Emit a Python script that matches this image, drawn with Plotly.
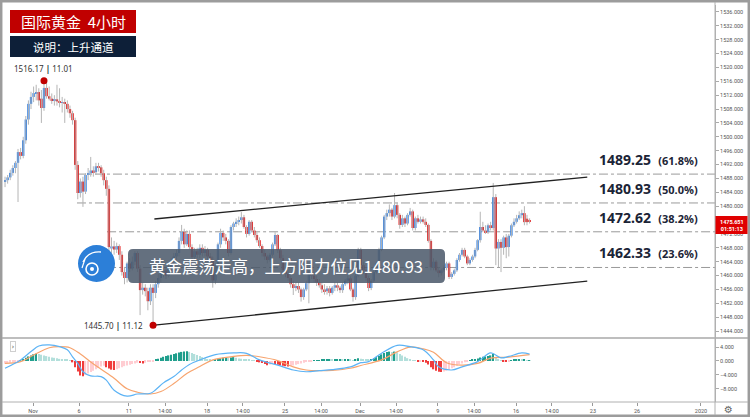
import plotly.graph_objects as go

# 4-hour gold bars, bar index on x (Oct 30 .. Dec 17 2019)
opens = [
    1487.0, 1487.5, 1488.3, 1489.6, 1491.0, 1492.5, 1495.6, 1494.5, 1499.0, 1505.0,
    1509.5, 1511.5, 1512.6, 1512.9, 1511.0, 1508.3, 1514.1, 1511.7, 1511.0, 1510.5,
    1510.8, 1510.2, 1509.8, 1510.0, 1509.5, 1508.0, 1506.8, 1504.8, 1491.9, 1483.8,
    1487.1, 1484.2, 1489.0, 1489.5, 1490.3, 1489.8, 1491.5, 1491.2, 1489.5, 1487.5,
    1485.0, 1467.8, 1468.4, 1467.5, 1468.5, 1466.0, 1461.0, 1459.3, 1463.5, 1462.0,
    1464.0, 1466.5, 1462.0, 1455.8, 1456.5, 1455.5, 1452.6, 1456.5, 1455.0, 1457.5,
    1459.3, 1460.7, 1461.5, 1460.0, 1462.4, 1464.0, 1465.5, 1466.5, 1470.0, 1472.6,
    1469.0, 1472.0, 1468.2, 1465.3, 1467.0, 1466.0, 1468.0, 1466.5, 1467.4, 1465.5,
    1464.5, 1458.6, 1463.0, 1469.0, 1472.3, 1471.0, 1470.0, 1466.5, 1474.0, 1475.0,
    1475.5, 1476.0, 1476.8, 1474.0, 1472.0, 1475.5, 1473.0, 1471.7, 1470.2, 1468.5,
    1466.5, 1465.5, 1464.5, 1466.0, 1469.0, 1471.7, 1467.3, 1465.0, 1461.6, 1460.5,
    1459.3, 1457.5, 1456.4, 1457.0, 1456.0, 1453.8, 1456.0, 1457.8, 1460.7, 1460.0,
    1459.0, 1458.0, 1457.2, 1456.0, 1455.5, 1456.3, 1455.0, 1456.5, 1457.2, 1456.5,
    1455.8, 1457.5, 1458.5, 1459.2, 1456.0, 1453.8, 1460.0, 1467.4, 1463.0, 1461.5,
    1459.3, 1456.4, 1458.5, 1461.0, 1463.5, 1467.4, 1471.0, 1477.0, 1478.0, 1479.0,
    1477.0, 1480.3, 1477.5, 1474.6, 1476.5, 1475.0, 1477.5, 1478.5, 1473.7, 1476.5,
    1475.5, 1476.2, 1475.5, 1474.6, 1470.0, 1462.4, 1464.0, 1461.5, 1460.7, 1461.5,
    1462.2, 1463.5, 1459.6, 1460.5, 1461.5, 1464.5, 1466.0, 1467.4, 1465.5, 1463.5,
    1464.5, 1465.5, 1467.4, 1470.2, 1474.0, 1473.0, 1472.5, 1474.5, 1473.7, 1482.6,
    1467.8, 1469.7, 1468.0, 1471.0, 1468.2, 1471.5, 1474.5, 1475.5, 1476.5, 1477.4,
    1478.0, 1476.4, 1476.0,
]
highs = [
    1488.5, 1489.0, 1490.5, 1491.8, 1493.0, 1496.5, 1496.8, 1500.0, 1506.0, 1510.5,
    1513.0, 1514.5, 1515.0, 1514.0, 1513.5, 1516.17, 1515.5, 1514.5, 1512.5, 1512.0,
    1515.0, 1514.0, 1511.5, 1511.0, 1510.5, 1509.0, 1507.5, 1505.5, 1493.0, 1488.0,
    1488.5, 1489.5, 1491.0, 1494.2, 1491.5, 1492.5, 1492.5, 1491.8, 1490.5, 1488.5,
    1486.0, 1471.0, 1470.0, 1469.5, 1469.0, 1467.0, 1462.5, 1464.0, 1465.0, 1465.5,
    1467.0, 1467.0, 1463.0, 1458.0, 1457.5, 1456.5, 1457.5, 1457.5, 1458.5, 1460.5,
    1461.5, 1462.5, 1462.0, 1463.5, 1465.0, 1466.5, 1467.5, 1471.0, 1474.6, 1473.5,
    1473.0, 1473.0, 1469.0, 1468.0, 1468.0, 1469.0, 1469.0, 1468.5, 1468.0, 1466.5,
    1465.5, 1463.5, 1469.5, 1473.5, 1473.0, 1472.0, 1470.5, 1474.5, 1475.5, 1476.5,
    1477.0, 1478.3, 1477.5, 1474.5, 1476.0, 1476.0, 1474.0, 1472.5, 1471.0, 1469.0,
    1467.5, 1466.0, 1466.5, 1469.5, 1472.5, 1472.0, 1468.0, 1466.0, 1462.5, 1461.5,
    1460.0, 1458.5, 1458.0, 1458.0, 1456.5, 1456.5, 1458.5, 1461.5, 1461.5, 1461.0,
    1460.0, 1459.0, 1458.0, 1457.5, 1457.0, 1457.0, 1457.0, 1458.0, 1458.0, 1457.0,
    1458.0, 1459.0, 1460.0, 1459.8, 1456.5, 1460.5, 1468.0, 1468.0, 1464.0, 1462.0,
    1460.0, 1459.0, 1461.5, 1464.0, 1468.0, 1471.5, 1477.5, 1479.0, 1480.5, 1479.5,
    1483.8, 1481.0, 1478.0, 1477.5, 1477.0, 1478.0, 1479.5, 1479.0, 1477.0, 1477.5,
    1477.0, 1477.0, 1476.5, 1475.0, 1470.5, 1465.0, 1464.5, 1462.5, 1462.0, 1463.0,
    1464.0, 1464.0, 1461.0, 1462.0, 1465.0, 1466.5, 1468.0, 1468.0, 1466.0, 1465.0,
    1466.0, 1468.0, 1470.5, 1478.4, 1475.5, 1474.5, 1475.0, 1475.5, 1486.7, 1483.5,
    1470.5, 1470.5, 1471.5, 1472.0, 1472.0, 1475.0, 1476.5, 1477.5, 1478.5, 1479.0,
    1480.0, 1477.5, 1476.5,
]
lows = [
    1485.5, 1486.5, 1487.5, 1488.8, 1489.5, 1481.2, 1493.5, 1493.8, 1498.0, 1503.5,
    1508.0, 1510.0, 1510.5, 1509.0, 1504.0, 1507.5, 1511.0, 1510.5, 1509.5, 1509.0,
    1509.0, 1508.5, 1507.0, 1504.0, 1507.0, 1505.5, 1503.5, 1490.5, 1482.0, 1482.5,
    1479.8, 1483.5, 1487.5, 1488.5, 1488.5, 1489.0, 1490.0, 1488.5, 1486.0, 1483.0,
    1467.0, 1466.5, 1466.0, 1466.5, 1464.5, 1460.0, 1457.5, 1458.0, 1461.0, 1461.5,
    1463.0, 1461.0, 1448.6, 1454.5, 1454.0, 1450.0, 1451.5, 1445.7, 1453.5, 1456.5,
    1458.0, 1459.5, 1459.0, 1459.5, 1461.5, 1463.0, 1464.5, 1465.5, 1469.0, 1468.0,
    1468.5, 1467.5, 1464.0, 1464.5, 1465.0, 1465.0, 1465.5, 1465.5, 1464.5, 1463.5,
    1456.5, 1457.5, 1462.0, 1468.0, 1470.0, 1469.0, 1465.5, 1466.0, 1473.0, 1474.0,
    1474.5, 1475.0, 1473.5, 1471.0, 1471.5, 1472.5, 1471.0, 1469.5, 1468.0, 1465.5,
    1464.5, 1463.5, 1464.0, 1465.5, 1468.5, 1466.5, 1464.5, 1461.0, 1459.5, 1458.5,
    1456.5, 1454.4, 1455.5, 1455.0, 1452.5, 1453.0, 1455.5, 1452.0, 1459.0, 1458.0,
    1457.0, 1456.5, 1455.0, 1454.5, 1454.5, 1454.0, 1454.5, 1455.5, 1455.5, 1455.0,
    1455.0, 1457.0, 1457.5, 1455.5, 1452.5, 1453.0, 1459.5, 1462.5, 1460.5, 1458.5,
    1455.5, 1455.8, 1458.0, 1460.5, 1463.0, 1467.0, 1470.5, 1476.0, 1477.0, 1476.0,
    1476.5, 1476.5, 1473.5, 1474.0, 1474.0, 1474.5, 1477.0, 1473.0, 1473.0, 1475.0,
    1475.0, 1475.0, 1474.0, 1469.5, 1461.5, 1461.5, 1461.0, 1459.5, 1460.0, 1461.0,
    1461.5, 1459.0, 1459.0, 1460.0, 1461.0, 1464.0, 1465.5, 1465.0, 1463.0, 1463.0,
    1464.0, 1465.0, 1467.0, 1469.5, 1472.5, 1472.0, 1472.0, 1473.0, 1473.0, 1463.0,
    1462.4, 1461.0, 1466.0, 1465.0, 1465.5, 1471.0, 1474.0, 1475.0, 1476.0, 1476.5,
    1474.5, 1474.5, 1475.0,
]
closes = [
    1487.5, 1488.3, 1489.6, 1491.0, 1492.5, 1495.6, 1494.5, 1499.0, 1505.0, 1509.5,
    1511.5, 1512.6, 1512.9, 1510.5, 1508.3, 1514.1, 1511.7, 1511.0, 1510.5, 1510.8,
    1510.2, 1509.8, 1510.0, 1509.5, 1508.0, 1506.8, 1504.8, 1491.9, 1483.8, 1487.1,
    1484.2, 1489.0, 1489.5, 1490.3, 1489.8, 1491.5, 1491.2, 1489.5, 1487.5, 1485.0,
    1468.2, 1468.4, 1467.5, 1468.5, 1466.0, 1461.0, 1459.3, 1463.5, 1462.0, 1464.0,
    1466.5, 1462.0, 1455.8, 1456.5, 1455.5, 1452.6, 1456.5, 1455.0, 1457.5, 1459.3,
    1460.7, 1461.5, 1460.0, 1462.4, 1464.0, 1465.5, 1466.5, 1470.0, 1472.6, 1469.0,
    1472.0, 1468.2, 1465.3, 1467.0, 1466.0, 1468.0, 1466.5, 1467.4, 1465.5, 1464.5,
    1458.6, 1463.0, 1469.0, 1472.3, 1471.0, 1470.0, 1466.5, 1474.0, 1475.0, 1475.5,
    1476.0, 1476.8, 1474.0, 1472.0, 1475.5, 1473.0, 1471.7, 1470.2, 1468.5, 1466.5,
    1465.5, 1464.5, 1466.0, 1469.0, 1471.7, 1467.3, 1465.0, 1461.6, 1460.5, 1459.3,
    1457.5, 1456.4, 1457.0, 1456.0, 1453.8, 1456.0, 1457.8, 1460.7, 1460.0, 1459.0,
    1458.0, 1457.2, 1456.0, 1455.5, 1456.3, 1455.0, 1456.5, 1457.2, 1456.5, 1455.8,
    1457.5, 1458.5, 1459.2, 1456.0, 1453.8, 1460.0, 1467.4, 1463.0, 1461.5, 1459.3,
    1456.4, 1458.5, 1461.0, 1463.5, 1467.4, 1471.0, 1477.0, 1478.0, 1479.0, 1477.0,
    1480.3, 1477.5, 1474.6, 1476.5, 1475.0, 1477.5, 1478.5, 1473.7, 1476.5, 1475.5,
    1476.2, 1475.5, 1474.6, 1470.0, 1462.4, 1464.0, 1461.5, 1460.7, 1461.5, 1462.2,
    1463.5, 1459.6, 1460.5, 1461.5, 1464.5, 1466.0, 1467.4, 1465.5, 1463.5, 1464.5,
    1465.5, 1467.4, 1470.2, 1474.0, 1473.0, 1472.5, 1474.5, 1473.7, 1482.6, 1467.8,
    1469.7, 1468.0, 1471.0, 1468.2, 1471.5, 1474.5, 1475.5, 1476.5, 1477.4, 1478.0,
    1475.4, 1475.4, 1475.651,
]

# MACD histogram, one value per bar
macd_hist = [
    -0.8, -0.7, -0.5, -0.4, -0.2, -0.1, 0.2, 0.5, 0.9, 1.3,
    1.6, 1.9, 2.1, 2.0, 1.8, 1.6, 1.4, 1.2, 1.0, 0.9,
    0.8, 0.6, 0.5, 0.4, 0.3, 0.1, -0.4, -1.8, -3.0, -4.2,
    -4.4, -4.0, -3.6, -3.2, -2.8, -2.4, -2.0, -1.6, -1.4, -1.8,
    -2.2, -2.5, -2.6, -2.4, -2.1, -1.8, -1.5, -1.3, -1.1, -0.9,
    -0.7, -0.5, -0.6, -0.7, -0.5, -0.3, -0.2, -0.1, 0.3, 0.6,
    0.9, 1.2, 1.4, 1.6, 1.8, 2.0, 2.2, 2.4, 2.6, 2.7,
    2.8, 2.6, 2.3, 2.0, 1.7, 1.4, 1.1, 0.8, 0.5, 0.3,
    0.2, 0.4, 0.6, 0.8, 0.9, 1.0, 0.9, 1.0, 1.1, 0.9,
    0.7, 0.6, 0.5, 0.4, 0.3, 0.2, 0.05, -0.2, -0.4, -0.6,
    -0.9, -1.2, -1.0, -0.8, -0.9, -1.1, -1.3, -1.4, -1.5, -1.6,
    -1.5, -1.3, -1.1, -0.9, -0.7, -0.5, -0.3, -0.2, -0.1, 0.1,
    0.2, 0.2, 0.3, 0.3, 0.4, 0.4, 0.3, 0.3, 0.4, 0.4,
    0.3, 0.4, 0.5, 0.3, 0.2, 0.5, 0.8, 0.6, 0.5, 0.4,
    0.3, 0.5, 0.8, 1.1, 1.5, 1.9, 2.3, 2.6, 2.7, 2.6,
    2.7, 2.4, 2.0, 1.6, 1.2, 0.8, 0.5, 0.2, 0.05, -0.1,
    -0.1, -0.2, -0.5, -1.0, -1.8, -2.4, -2.8, -3.1, -3.2, -3.0,
    -2.8, -2.5, -2.1, -1.8, -1.4, -1.0, -0.7, -0.4, -0.2, 0.1,
    0.3, 0.5, 0.7, 1.0, 1.2, 1.3, 1.4, 1.6, 2.0, 1.2,
    0.5, 0.1, -0.2, -0.3, -0.1, 0.2, 0.3, 0.4, 0.4, 0.3,
    0.3, 0.2, 0.2,
]
macd_idx = [0, 6, 10, 13, 17, 21, 24, 26, 28, 30, 33, 37, 39, 42, 47, 51, 56, 58, 61, 65,
            68, 71, 75, 81, 88, 93, 98, 105, 111, 116, 121, 126, 133, 137, 140, 145, 151,
            156, 161, 165, 167, 172, 176, 182, 187, 191, 194, 199, 202]
macd_line = [-2.1, 0.3, 2.7, 4.3, 4.6, 4.1, 3.2, 1.2, -0.7, -3.1, -4.3, -4.5, -5.5, -8.4,
             -10.1, -9.5, -9.3, -8.3, -6.3, -4.5, -2.6, -1.0, 0.3, 1.8, 2.3, 2.2, 0.3, -1.2,
             -2.6, -3.1, -2.8, -2.5, -1.7, -0.5, -0.2, 2.2, 4.5, 4.1, 3.2, 0.3, -1.7, -2.6,
             -1.7, -0.2, 2.3, 0.9, 1.3, 2.3, 2.0]
signal_idx = [0, 6, 11, 17, 21, 25, 29, 33, 37, 42, 47, 51, 56, 60, 65, 70, 75, 80, 88, 93,
              98, 105, 111, 116, 121, 126, 133, 137, 145, 151, 156, 161, 165, 170, 176, 182,
              187, 194, 202]
signal_line = [-0.7, -0.2, 1.7, 3.8, 4.1, 3.8, 2.0, -0.3, -2.4, -5.0, -8.0, -9.0, -9.5, -8.8,
               -6.5, -3.6, -1.6, 0.3, 1.3, 1.6, 1.2, 0.1, -1.7, -2.6, -2.8, -2.7, -2.1, -1.3,
               0.3, 2.6, 4.0, 3.5, 2.5, -0.5, -1.2, -0.7, 0.8, 1.1, 1.8]

fib_levels = [1489.25, 1480.93, 1472.62, 1462.33]
fib_ratios = ["61.8%", "50.0%", "38.2%", "23.6%"]
fib_start = [27.7, 27.7, 39.3, 39.3]

channel_x = [57.5, 224.2]
channel_upper = [1476.3, 1488.4]
channel_lower = [1445.7, 1458.4]

tick_pos = [10.8, 28.5, 47.7, 61.6, 77.8, 91.6, 107.8, 121.7, 136.7, 150.6, 166.7, 180.6,
            196.8, 210.6, 226.4, 243.4, 268.0]
tick_text = ["Nov", "6", "11", "14:00", "18", "14:00", "25", "14:00", "Dec", "14:00", "9",
             "14:00", "16", "14:00", "23", "26", "2020"]
# price axis labels; 1476 sits under the live-price tag
price_ticks = [p for p in range(1444, 1537, 4) if p != 1476]
macd_ticks = [-8, -4, 0, 4]

title_text = "国际黄金  4小时"
note_text = "说明：上升通道"
box_text = "黄金震荡走高，上方阻力位见1480.93"
high_date = "11.01"
low_date = "11.12"
countdown = "01:51:13"

UP, DOWN, WICK = "#2a7de6", "#e00000", "#b5b5b5"
CJK = "Noto Sans CJK SC"

# pixel -> paper helpers (plot area 4..715 x 5..402)
L, R, T, B = 4, 715, 5, 402
def px(x):
    return (x - L) / (R - L)

def py(y):
    return (B - y) / (B - T)

n = len(closes)
xs = list(range(n))

fig = go.Figure()

# wicks
wx, wy = [], []
for i in xs:
    wx += [i, i, None]
    wy += [lows[i], highs[i], None]
fig.add_trace(go.Scatter(x=wx, y=wy, mode="lines", line=dict(color=WICK, width=1),
                         hoverinfo="skip"))

# bodies
base = [min(o, c) for o, c in zip(opens, closes)]
body = [abs(c - o) for o, c in zip(opens, closes)]
body_col = [UP if c >= o else DOWN for o, c in zip(opens, closes)]
fig.add_trace(go.Bar(x=xs, y=body, base=base, width=0.9,
                     marker=dict(color=body_col, line_width=0)))

# channel
fig.add_trace(go.Scatter(x=channel_x, y=channel_upper, mode="lines",
                         line=dict(color="#222", width=1.3)))
fig.add_trace(go.Scatter(x=channel_x, y=channel_lower, mode="lines",
                         line=dict(color="#222", width=1.3)))

# high / low markers
hi_i = highs.index(max(highs))
lo_i = lows.index(min(lows))
fig.add_trace(go.Scatter(x=[hi_i, lo_i], y=[highs[hi_i], lows[lo_i]], mode="markers",
                         marker=dict(color="#c00000", size=7)))

# MACD panel
hist_col = []
for i, v in enumerate(macd_hist):
    prev = macd_hist[i - 1] if i else v
    if v >= 0:
        hist_col.append("#1f9e8c" if v >= prev else "#b2dfdb")
    else:
        hist_col.append("#f03c3c" if v < prev else "#ffcdd2")
fig.add_trace(go.Bar(x=list(range(len(macd_hist))), y=macd_hist, width=0.5, yaxis="y2",
                     marker=dict(color=hist_col, line_width=0)))
fig.add_trace(go.Scatter(x=signal_idx, y=signal_line, yaxis="y2", mode="lines",
                         line=dict(color="#f7a46e", width=1.2, shape="spline")))
fig.add_trace(go.Scatter(x=macd_idx, y=macd_line, yaxis="y2", mode="lines",
                         line=dict(color="#5cb3f5", width=1.2, shape="spline")))

shapes = []
for lvl, x0 in zip(fib_levels, fib_start):
    shapes.append(dict(type="line", xref="x", yref="y", x0=x0, x1=273.4, y0=lvl, y1=lvl,
                       line=dict(color="#9a9a9a", width=1, dash="dashdot"), layer="below"))

# frame and separators
shapes += [
    dict(type="rect", xref="paper", yref="paper", x0=px(1.2), x1=px(748.8), y0=py(415.8),
         y1=py(1.2), line=dict(color="#9c9c9c", width=2.5)),
    dict(type="line", xref="paper", yref="paper", x0=px(2), x1=px(748), y0=py(338), y1=py(338),
         line=dict(color="#a8a8a8", width=1.5)),
    dict(type="line", xref="paper", yref="paper", x0=px(2), x1=px(748), y0=0, y1=0,
         line=dict(color="#b0b0b0", width=1)),
    dict(type="line", xref="paper", yref="paper", x0=1, x1=1, y0=py(415), y1=py(2),
         line=dict(color="#b0b0b0", width=1)),
    # title boxes
    dict(type="rect", xref="paper", yref="paper", x0=px(10), x1=px(136), y0=py(33), y1=py(10),
         fillcolor="#c00000", line_width=0),
    dict(type="rect", xref="paper", yref="paper", x0=px(10), x1=px(136), y0=py(57), y1=py(36),
         fillcolor="#0d1f38", line_width=0),
    # current price tag
    dict(type="rect", xref="paper", yref="paper", x0=px(715.5), x1=px(747.5), y0=py(234),
         y1=py(216), fillcolor="#e00000", line_width=0),
]

# rounded comment box
def rounded(x0, y0, x1, y1, r):
    return (f"M{px(x0 + r)},{py(y0)} L{px(x1 - r)},{py(y0)} Q{px(x1)},{py(y0)} {px(x1)},{py(y0 + r)} "
            f"L{px(x1)},{py(y1 - r)} Q{px(x1)},{py(y1)} {px(x1 - r)},{py(y1)} "
            f"L{px(x0 + r)},{py(y1)} Q{px(x0)},{py(y1)} {px(x0)},{py(y1 - r)} "
            f"L{px(x0)},{py(y0 + r)} Q{px(x0)},{py(y0)} {px(x0 + r)},{py(y0)} Z")

shapes.append(dict(type="path", xref="paper", yref="paper", path=rounded(128, 249, 445, 283, 5),
                   fillcolor="rgba(74,88,106,0.86)", line_width=0))

# logo
shapes += [
    dict(type="circle", xref="paper", yref="paper", x0=px(78), x1=px(115), y0=py(282), y1=py(245),
         fillcolor="#2c7fd8", line_width=0),
    dict(type="circle", xref="paper", yref="paper", x0=px(86), x1=px(98), y0=py(275), y1=py(263),
         fillcolor="rgba(0,0,0,0)", line=dict(color="white", width=1.6)),
    dict(type="circle", xref="paper", yref="paper", x0=px(90), x1=px(94), y0=py(271), y1=py(267),
         fillcolor="white", line_width=0),
    dict(type="path", xref="paper", yref="paper",
         path=f"M{px(83)},{py(262)} Q{px(88)},{py(251)} {px(101)},{py(252)}",
         line=dict(color="white", width=1.4)),
    dict(type="path", xref="paper", yref="paper",
         path=f"M{px(85)},{py(259)} L{px(82)},{py(268)}",
         line=dict(color="white", width=1.2)),
]

def note(x, y, text, **kw):
    return dict(xref="paper", yref="paper", x=px(x), y=py(y), xanchor="center",
                yanchor="middle", text=text, showarrow=False, **kw)

ann = [
    note(73, 21.5, title_text, font=dict(family=CJK, size=15, color="white")),
    note(73, 46.5, note_text, font=dict(family=CJK, size=11.5, color="white")),
    note(286, 266, box_text, font=dict(family=CJK, size=16.5, color="white")),
    note(731.5, 225, f"<b>{closes[-1]:.3f}</b><br><b>{countdown}</b>", borderpad=0,
         font=dict(family="Roboto", size=5.5, color="white")),
    note(728, 409, "⚙", font=dict(family="DejaVu Sans", size=10, color="#666")),
    note(12.5, 346, "›", bordercolor="#cfcfcf", borderwidth=1, borderpad=0.5, bgcolor="white",
         font=dict(family="DejaVu Sans", size=7, color="#555")),
    dict(xref="x", yref="y", x=hi_i, y=highs[hi_i], xanchor="center", yanchor="bottom",
         yshift=5, showarrow=False,
         text=f"{highs[hi_i]:.2f} <b><span style='color:#0d1f38'>|</span></b> {high_date}",
         font=dict(family="Noto Sans", size=8, color="#333")),
    dict(xref="x", yref="y", x=lo_i, y=lows[lo_i], xanchor="right", yanchor="middle",
         xshift=-8, showarrow=False,
         text=f"{lows[lo_i]:.2f} <b><span style='color:#0d1f38'>|</span></b> {low_date}",
         font=dict(family="Noto Sans", size=8, color="#333")),
]
for lvl, ratio in zip(fib_levels, fib_ratios):
    ann.append(dict(xref="paper", yref="y", x=px(597), y=lvl, xanchor="left", yanchor="bottom",
                    yshift=3, showarrow=False,
                    text=f"<b>{lvl:.2f}</b>\u00a0\u00a0<span style='font-size:11px'><b>({ratio})</b></span>",
                    font=dict(family="Noto Sans", size=14, color="#1b2436")))

axis_font = dict(family="Roboto", size=5.5, color="#555")
fig.update_layout(
    width=750, height=417,
    margin=dict(l=L, r=750 - R, t=T, b=417 - B),
    paper_bgcolor="white", plot_bgcolor="white",
    showlegend=False, barmode="overlay", hovermode=False,
    xaxis=dict(range=[-0.4, 273.4], tickvals=tick_pos, ticktext=tick_text, ticks="outside",
               ticklen=3, tickcolor="#999", tickfont=axis_font, showgrid=False,
               zeroline=False, anchor="y2"),
    yaxis=dict(domain=[py(338), 1], range=[1442, 1538], side="right", tickvals=price_ticks,
               tickformat=".3f", ticks="outside", ticklen=3, tickcolor="#aaa",
               tickfont=axis_font, showgrid=False, zeroline=False, showline=True,
               linecolor="#b0b0b0", linewidth=1),
    yaxis2=dict(domain=[0, py(338)], range=[-11.8, 6.6], side="right",
                tickvals=macd_ticks, tickformat=".3f", ticks="outside", ticklen=3,
                tickcolor="#aaa", tickfont=axis_font, showgrid=False, zeroline=False,
                showline=True, linecolor="#b0b0b0", linewidth=1),
    shapes=shapes,
    annotations=ann,
)

fig.write_html("out.html", config={"displayModeBar": False},
               post_script="document.body.style.margin='0';document.body.style.overflow='hidden';")
